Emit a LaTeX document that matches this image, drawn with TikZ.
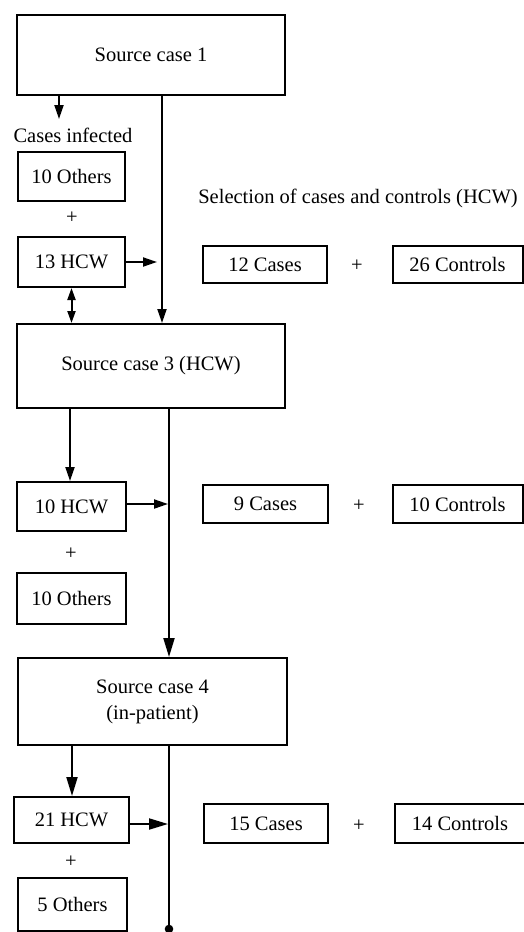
\documentclass[tikz,border=0pt]{standalone}
\usepackage{fontspec}
\setmainfont{Liberation Serif}
\usetikzlibrary{arrows.meta}
\begin{document}
\begin{tikzpicture}[x=1pt,y=-1pt,
  every node/.style={font=\fontsize{20.5}{26}\selectfont, inner sep=0pt},
  box/.style={draw, line width=2pt, rectangle, align=center},
  conn/.style={line width=2pt},
  sarr/.style={conn, -{Triangle[length=14pt,width=9pt]}},
  barr/.style={conn, -{Triangle[length=19pt,width=11pt]}},
  darr/.style={conn, {Triangle[length=12pt,width=8pt]}-{Triangle[length=12pt,width=8pt]}},
  txt/.style={}]
\useasboundingbox (0,0) rectangle (524,932);
\fill[white] (0,0) rectangle (524,932);
% first level
\node[box, minimum width=268pt, minimum height=80pt] (sc1) at (151,55) {Source case 1};
\node[txt] (inf) at (73,135) {Cases infected};
\node[box, minimum width=107pt, minimum height=49pt] (o1) at (71.5,176.5) {10 Others};
\node[txt] (p1) at (72,218) {+};
\node[box, minimum width=107pt, minimum height=50pt] (h1) at (71.5,262) {13 HCW};
\node[txt] (sel) at (358,198) {Selection of cases and controls (HCW)};
\node[box, minimum width=124pt, minimum height=37pt] (c1) at (265,264.5) {12 Cases};
\node[txt] (q1) at (357,266) {+};
\node[box, minimum width=130pt, minimum height=37pt] (k1) at (457.5,264.5) {26 Controls};
% second level
\node[box, minimum width=268pt, minimum height=84pt] (sc3) at (151,366) {Source case 3 (HCW)};
\node[box, minimum width=109pt, minimum height=49pt] (h3) at (71.5,506.5) {10 HCW};
\node[txt] (p3) at (71,554) {+};
\node[box, minimum width=109pt, minimum height=51pt] (o3) at (71.5,598.5) {10 Others};
\node[box, minimum width=125pt, minimum height=38pt] (c3) at (265.5,504) {9 Cases};
\node[txt] (q3) at (359,506) {+};
\node[box, minimum width=130pt, minimum height=38pt] (k3) at (457.5,504) {10 Controls};
% third level
\node[box, minimum width=269pt, minimum height=87pt] (sc4) at (152.5,701.5) {Source case 4\\(in-patient)};
\node[box, minimum width=115pt, minimum height=46pt] (h4) at (71.5,820) {21 HCW};
\node[txt] (p4) at (71,862) {+};
\node[box, minimum width=109pt, minimum height=53pt] (o4) at (72.5,904.5) {5 Others};
\node[box, minimum width=124pt, minimum height=39pt] (c4) at (266,823.5) {15 Cases};
\node[txt] (q4) at (359,826) {+};
\node[box, minimum width=130pt, minimum height=39pt] (k4) at (460,823.5) {14 Controls};
% helper coordinates
\coordinate (t1) at (59,119);
\coordinate (e1) at (157,262);
\coordinate (e3) at (168,504);
\coordinate (e4) at (168,824);
\coordinate (end4) at (169,929);
% connectors
\draw[sarr] (sc1.south -| t1) -- (t1);
\draw[sarr] (sc1.south -| 162,0) -- (sc3.north -| 162,0);
\draw[sarr] (h1.east) -- (e1);
\draw[darr] (h1.south) -- (sc3.north -| h1.south);
\draw[sarr] (sc3.south -| 70,0) -- (h3.north -| 70,0);
\draw[barr] (sc3.south -| 169,0) -- (sc4.north -| 169,0);
\draw[sarr] (h3.east |- e3) -- (e3);
\draw[barr] (sc4.south -| 72,0) -- (h4.north -| 72,0);
\draw[conn] (sc4.south -| end4) -- (end4);
\fill (end4) circle (4.3pt);
\draw[barr] (h4.east |- e4) -- (e4);
\end{tikzpicture}
\end{document}
